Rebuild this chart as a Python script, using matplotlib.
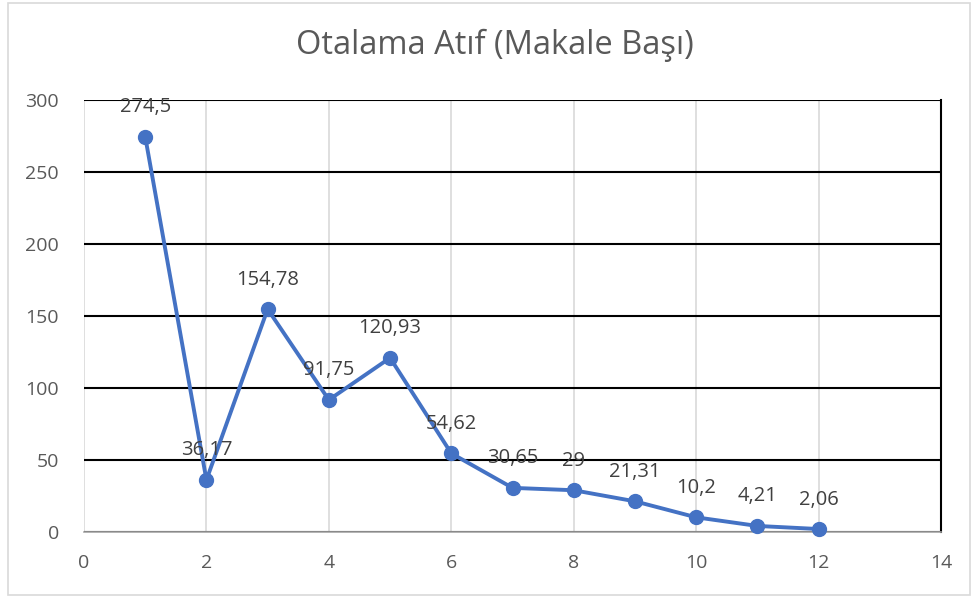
import matplotlib
matplotlib.use('Agg')
import matplotlib.pyplot as plt
from matplotlib.patches import Rectangle

# data
x_vals = [1, 2, 3, 4, 5, 6, 7, 8, 9, 10, 11, 12]
y_vals = [274.5, 36.17, 154.78, 91.75, 120.93, 54.62, 30.65, 29, 21.31, 10.2, 4.21, 2.06]
labels = ['274,5', '36,17', '154,78', '91,75', '120,93', '54,62', '30,65', '29',
          '21,31', '10,2', '4,21', '2,06']
x_ticks = [0, 2, 4, 6, 8, 10, 12, 14]
y_ticks = [0, 50, 100, 150, 200, 250, 300]

plt.rcParams['font.family'] = ['Open Sans', 'DejaVu Sans']

fig = plt.figure(figsize=(9.73, 5.98), dpi=100)
fig.patches.append(Rectangle((8/973, 3/598), 962/973, 592/598, transform=fig.transFigure,
                             fill=False, edgecolor='#D9D9D9', linewidth=1.2))
ax = fig.add_axes([84/973, 1-532/598, 857/973, 432/598])

ax.plot(x_vals, y_vals, color='#4472C4', linewidth=2.8, marker='o', markersize=10,
        zorder=3, clip_on=False)
for xv, yv, lb in zip(x_vals, y_vals, labels):
    ax.annotate(lb, (xv, yv), xytext=(0, 14), textcoords='offset points',
                ha='center', va='bottom', fontsize=14.5, color='#404040', zorder=4)

ax.set_xlim(0, 14)
ax.set_ylim(0, 300)
ax.set_xticks(x_ticks)
ax.set_yticks(y_ticks)
ax.tick_params(length=0, labelsize=14, labelcolor='#595959')
ax.tick_params(axis='y', pad=18)
ax.tick_params(axis='x', pad=16)
ax.xaxis.grid(True, color='#D9D9D9', linewidth=1.2)
ax.yaxis.grid(True, color='black', linewidth=1.5)
ax.set_axisbelow(True)
for s in ['top', 'left']:
    ax.spines[s].set_visible(False)
ax.spines['right'].set_color('black')
ax.spines['right'].set_linewidth(1.5)
ax.spines['bottom'].set_color('#A6A6A6')
ax.spines['bottom'].set_linewidth(1.2)

fig.text(495/973, 1-45/598, 'Otalama Atıf (Makale Başı)', ha='center', va='center',
         fontsize=23.5, color='#595959')

fig.savefig('out.png', dpi=100)
